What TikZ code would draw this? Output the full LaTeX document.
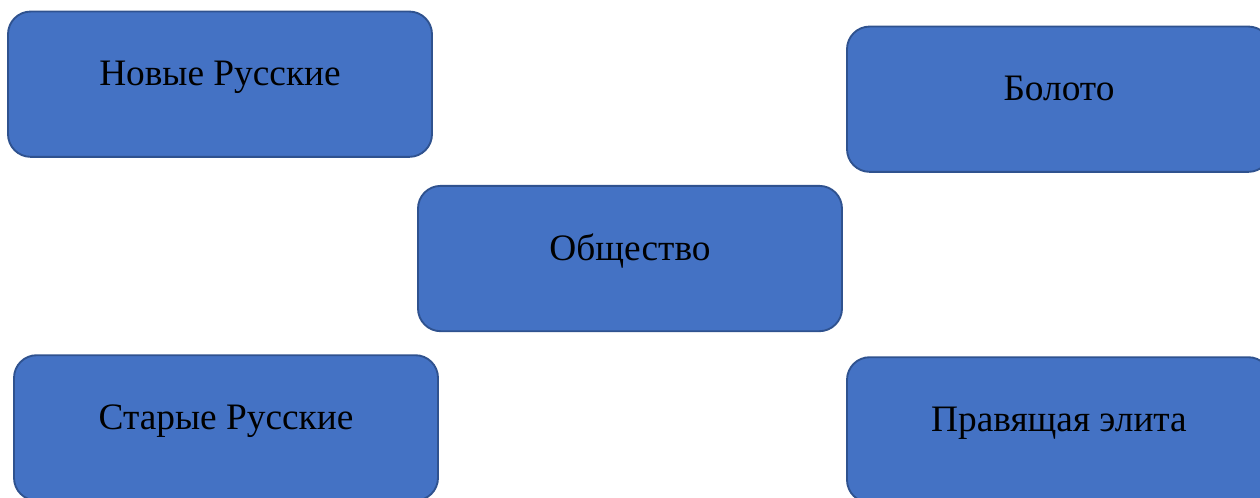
\documentclass[tikz,border=0pt]{standalone}
\usepackage{fontspec}
\setmainfont{Liberation Serif}
\usetikzlibrary{positioning}

\definecolor{boxfill}{HTML}{4472C4}
\definecolor{boxline}{HTML}{2F528F}

\begin{document}
\begin{tikzpicture}[%
    groupbox/.style={
        draw=boxline,
        fill=boxfill,
        line width=1.4pt,
        rounded corners=17pt,
        minimum width=318pt,
        minimum height=109pt,
        outer sep=0pt,
        text height=18pt,
        text depth=15.75pt,
        font=\fontsize{28}{32}\selectfont
        }
]

\useasboundingbox (0,0) rectangle (945pt,-372.75pt);

\node[groupbox] (society) at (472.5pt,-193.9pt) {Общество};

\node[groupbox, above left=21.75pt and -10.5pt of society] (newrus) {Новые Русские};
\node[groupbox, above right=10.5pt and 3.75pt of society] (swamp) {Болото};
\node[groupbox, below left=18pt and -15pt of society] (oldrus) {Старые Русские};
\node[groupbox, below right=19.5pt and 3.75pt of society] (elite) {Правящая элита};

\end{tikzpicture}
\end{document}
